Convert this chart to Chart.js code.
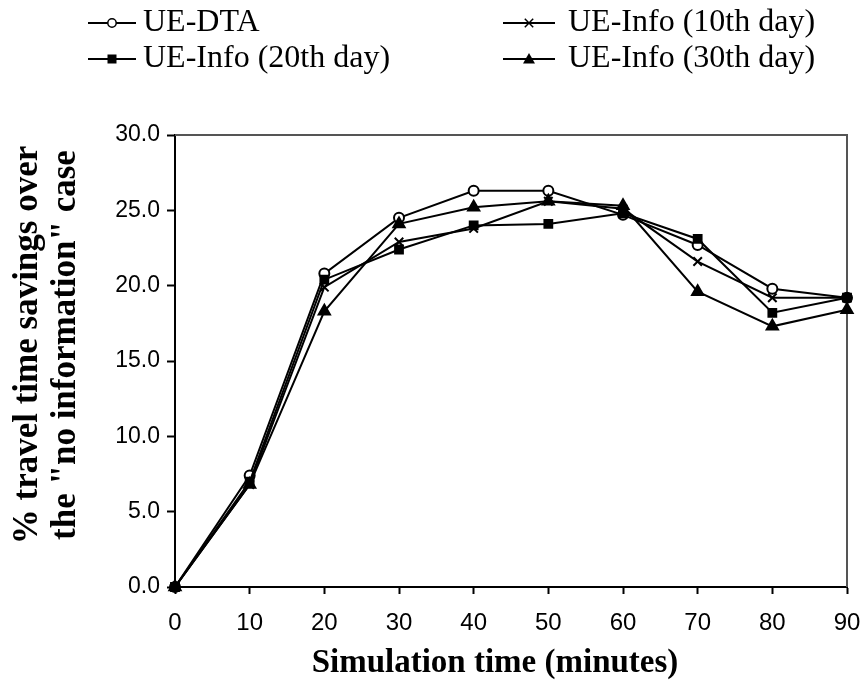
<!DOCTYPE html>
<html>
<head>
<meta charset="utf-8">
<script src="https://cdn.jsdelivr.net/npm/chart.js@4/dist/chart.umd.min.js"></script>
<style>
html,body{margin:0;padding:0;background:#fff;}
canvas{display:block;}
</style>
</head>
<body>
<canvas id="c" width="865" height="694"></canvas>
<script>
const times = [0, 10, 20, 30, 40, 50, 60, 70, 80, 90];
const ueDta = [0, 7.4, 20.8, 24.5, 26.3, 26.3, 24.7, 22.7, 19.8, 19.2];
const ueInfo10 = [0, 6.8, 19.9, 22.9, 23.8, 25.6, 25.1, 21.6, 19.2, 19.2];
const ueInfo20 = [0, 7.0, 20.4, 22.4, 24.0, 24.1, 24.8, 23.1, 18.2, 19.2];
const ueInfo30 = [0, 6.8, 18.3, 24.1, 25.2, 25.6, 25.3, 19.6, 17.3, 18.4];
const seriesNames = ['UE-DTA', 'UE-Info (10th day)', 'UE-Info (20th day)', 'UE-Info (30th day)'];
const xTitle = 'Simulation time (minutes)';
const yTitle = ['% travel time savings over', 'the "no information" case'];

function pts(vals){ return times.map((t,i)=>({x:t, y:vals[i]})); }

function mk(label, vals, style, bg, r, order){
  return {label, data: pts(vals), borderColor:'#000', borderWidth:2,
    pointStyle: style, pointRadius: r, pointBackgroundColor: bg, pointBorderColor:'#000',
    pointBorderWidth: 2, tension:0, clip:false, fill:false, order};
}

const datasets = [
  mk(seriesNames[0], ueDta, 'circle', '#fff', 5, 4),
  mk(seriesNames[1], ueInfo10, 'crossRot', '#000', 6, 3),
  mk(seriesNames[2], ueInfo20, 'rect', '#000', 5.5, 2),
  mk(seriesNames[3], ueInfo30, 'triangle', '#000', 6.5, 1)
];

const SERIF = '"Liberation Serif", "Times New Roman", serif';

function drawMarker(ctx, style, x, y, s){
  ctx.save();
  ctx.strokeStyle='#000'; ctx.fillStyle='#000'; ctx.lineWidth=1.5;
  ctx.beginPath();
  if(style==='circle'){ ctx.fillStyle='#fff'; ctx.arc(x,y,s*0.7,0,Math.PI*2); ctx.fill(); ctx.stroke(); }
  else if(style==='crossRot'){ ctx.moveTo(x-s*0.7,y-s*0.7); ctx.lineTo(x+s*0.7,y+s*0.7); ctx.moveTo(x+s*0.7,y-s*0.7); ctx.lineTo(x-s*0.7,y+s*0.7); ctx.stroke(); }
  else if(style==='rect'){ ctx.fillRect(x-s*0.75,y-s*0.75,s*1.5,s*1.5); }
  else if(style==='triangle'){ ctx.moveTo(x,y-s); ctx.lineTo(x+s,y+s*0.75); ctx.lineTo(x-s,y+s*0.75); ctx.closePath(); ctx.fill(); }
  ctx.restore();
}

const legendPlugin = {
  id:'customLegend',
  afterDraw(chart){
    const ctx = chart.ctx;
    const slots = [
      {x1:88, x2:136, tx:143, y:23},
      {x1:503, x2:555, tx:568, y:23},
      {x1:88, x2:136, tx:143, y:59},
      {x1:503, x2:555, tx:568, y:59}
    ];
    chart.data.datasets.forEach((ds,i)=>{
      const s = slots[i];
      ctx.save();
      ctx.strokeStyle='#000'; ctx.lineWidth=2;
      ctx.beginPath(); ctx.moveTo(s.x1,s.y); ctx.lineTo(s.x2,s.y); ctx.stroke();
      drawMarker(ctx, ds.pointStyle, (s.x1+s.x2)/2, s.y, 6);
      ctx.fillStyle='#000';
      ctx.font='32px ' + SERIF;
      ctx.textBaseline='middle'; ctx.textAlign='left';
      ctx.fillText(ds.label, s.tx, s.y);
      ctx.restore();
    });
  }
};

const titlesPlugin = {
  id:'axisTitles',
  afterDraw(chart){
    const ctx = chart.ctx;
    ctx.save();
    ctx.fillStyle='#000';
    ctx.font='bold 33px ' + SERIF;
    ctx.textAlign='center'; ctx.textBaseline='middle';
    ctx.fillText(xTitle, 495, 663);
    ctx.font='bold 35px ' + SERIF;
    ctx.translate(0, 345);
    ctx.rotate(-Math.PI/2);
    ctx.fillText(yTitle[0], 0, 28);
    ctx.fillText(yTitle[1], 0, 66);
    ctx.restore();
  }
};

const framePlugin = {
  id:'frame',
  beforeDatasetsDraw(chart){
    const {ctx, chartArea:a} = chart;
    ctx.save();
    ctx.strokeStyle='#555'; ctx.lineWidth=2;
    ctx.beginPath();
    ctx.moveTo(a.left, a.top); ctx.lineTo(a.right, a.top); ctx.lineTo(a.right, a.bottom);
    ctx.stroke();
    ctx.restore();
  }
};

new Chart(document.getElementById('c'), {
  type:'line',
  data:{datasets},
  plugins:[legendPlugin, framePlugin, titlesPlugin],
  options:{
    responsive:false, animation:false,
    layout:{padding:{top:135, right:18, left:0, bottom:0}},
    plugins:{legend:{display:false}, tooltip:{enabled:false}},
    scales:{
      x:{type:'linear', min:0, max:90,
        afterFit(s){ s.height = 107; s.paddingLeft = 0; s.paddingRight = 0; },
        ticks:{stepSize:10, color:'#000', padding:15, font:{family:'"Liberation Sans", Arial, sans-serif', size:24}},
        grid:{display:true, drawOnChartArea:false, drawTicks:true, tickLength:7, tickColor:'#000', tickWidth:2},
        border:{color:'#000', width:2},
        title:{display:false}
      },
      y:{min:0, max:30,
        afterFit(s){ s.width = 175; s.paddingTop = 0; s.paddingBottom = 0; },
        ticks:{stepSize:5, color:'#000', padding:7, callback:v=>Number(v).toFixed(1),
          font:{family:'"Liberation Sans", Arial, sans-serif', size:23}},
        grid:{display:true, drawOnChartArea:false, drawTicks:true, tickLength:8, tickColor:'#000', tickWidth:2},
        border:{color:'#000', width:2},
        title:{display:false}
      }
    }
  }
});
</script>
</body>
</html>
